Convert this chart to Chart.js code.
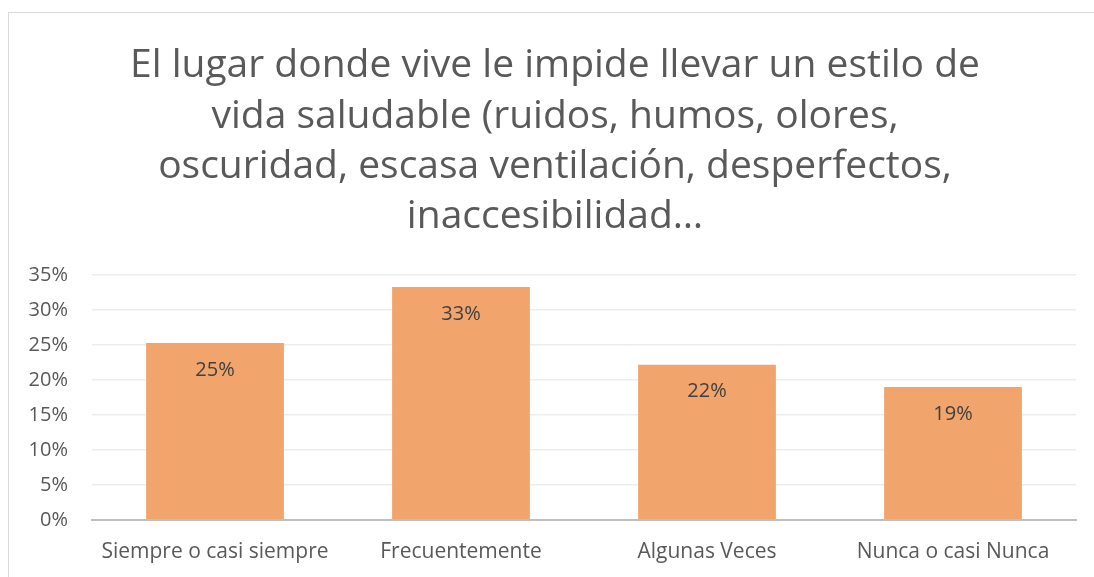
<!DOCTYPE html>
<html>
<head>
<meta charset="utf-8">
<script src="https://cdn.jsdelivr.net/npm/chart.js@4"></script>
<style>
  html, body { margin: 0; padding: 0; background: #fff; }
  #wrap { position: relative; width: 1094px; height: 577px; overflow: hidden; }
  #frame { position: absolute; left: 8px; top: 12px; width: 1200px; height: 700px;
           border-top: 1px solid #d9d9d9; border-left: 1px solid #d9d9d9; }
  #myChart { position: absolute; left: 0; top: 0; }
</style>
</head>
<body>
<div id="wrap">
  <div id="frame"></div>
  <canvas id="myChart" width="1094" height="577"></canvas>
</div>
<script>
// setup
const categories = ['Siempre o casi siempre', 'Frecuentemente', 'Algunas Veces', 'Nunca o casi Nunca'];
const values = [0.253, 0.333, 0.222, 0.19];
const valueLabels = ['25%', '33%', '22%', '19%'];
const titleLines = [
  'El lugar donde vive le impide llevar un estilo de',
  'vida saludable (ruidos, humos, olores,',
  'oscuridad, escasa ventilación, desperfectos,',
  'inaccesibilidad…'
];

// labels inside the bars, near the top
const barLabels = {
  id: 'barLabels',
  afterDatasetsDraw(chart) {
    const ctx = chart.ctx;
    const meta = chart.getDatasetMeta(0);
    ctx.save();
    ctx.font = '20px "Open Sans"';
    ctx.fillStyle = '#404040';
    ctx.textAlign = 'center';
    ctx.textBaseline = 'middle';
    meta.data.forEach((bar, i) => {
      ctx.fillText(valueLabels[i], bar.x, bar.y + 27);
    });
    ctx.restore();
  }
};

// title sits a bit right of the chart centre in the original
const titleShift = {
  id: 'titleShift',
  afterLayout(chart) {
    const t = chart.titleBlock;
    if (t) { t.left += 20; t.width -= 20; }
  }
};

const data = {
  labels: categories,
  datasets: [{
    data: values,
    backgroundColor: '#F1A46C',
    borderWidth: 0,
    categoryPercentage: 1,
    barPercentage: 0.56
  }]
};

const config = {
  type: 'bar',
  data: data,
  plugins: [barLabels, titleShift],
  options: {
    responsive: false,
    animation: false,
    layout: { padding: { left: 14, right: 18, top: 41, bottom: 0 } },
    plugins: {
      legend: { display: false },
      tooltip: { enabled: false },
      title: {
        display: true,
        text: titleLines,
        color: '#595959',
        font: { family: '"Open Sans"', size: 39, weight: 'normal', lineHeight: 1.29 },
        padding: { top: 0, bottom: 33 }
      }
    },
    scales: {
      x: {
        grid: { display: false },
        border: { color: '#BFBFBF', width: 2 },
        ticks: { color: '#595959', font: { family: '"Open Sans"', size: 21 }, padding: 12, maxRotation: 0 }
      },
      y: {
        min: 0,
        max: 0.35,
        afterFit(scale) { scale.width = 78; },
        grid: { color: '#EDEDED', lineWidth: 1.5, drawTicks: false },
        border: { display: false },
        ticks: {
          stepSize: 0.05,
          color: '#595959',
          padding: 24,
          font: { family: '"Open Sans"', size: 20 },
          callback: v => Math.round(v * 100) + '%'
        }
      }
    }
  }
};

const myChart = new Chart(document.getElementById('myChart'), config);
</script>
</body>
</html>
